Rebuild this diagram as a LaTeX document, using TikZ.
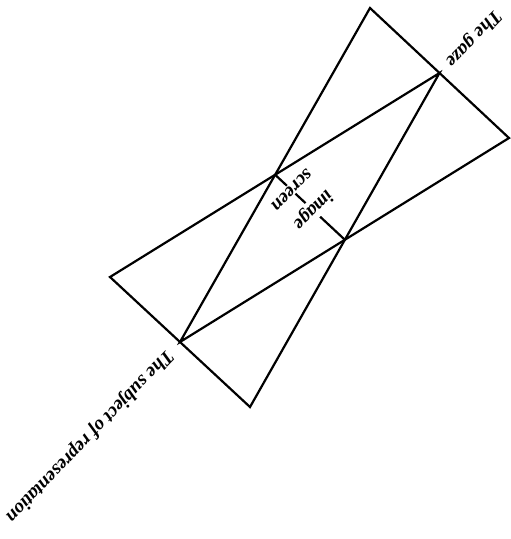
\documentclass[tikz,border=0pt]{standalone}
\usepackage{fontspec}
\setmainfont{Liberation Serif}
\usetikzlibrary{positioning, calc}
\tikzset{
  side/.style={line width=1.25pt, line join=miter},
  axis label/.style={font=\bfseries\itshape\fontsize{11}{13}\selectfont, rotate=226, inner sep=1pt},
  screen label/.style={axis label, fill=white, inner sep=0.6pt},
}

\begin{document}
\begin{tikzpicture}[x=0.02cm, y=-0.02cm]
  \useasboundingbox (0,0) rectangle (511,539);

  % corners and apexes
  \coordinate (top)    at (370,8);
  \coordinate (right)  at (509,138);
  \coordinate (bottom) at (250,407);
  \coordinate (left)   at (110,277);
  \coordinate (gaze)   at ($(top)!0.5!(right)$);
  \coordinate (subj)   at ($(left)!0.5!(bottom)$);

  % the two triangles
  \draw[side] (subj) -- (top) -- (right) -- cycle;
  \draw[side] (gaze) -- (left) -- (bottom) -- cycle;

  % screen between the crossings
  \coordinate (cross1) at (intersection of top--subj and left--gaze);
  \coordinate (cross2) at (intersection of right--subj and bottom--gaze);
  \draw[side] (cross1) -- (cross2);
  \node[screen label] (screen) at ($(cross1)!0.23!(cross2)$) {screen};
  \node[screen label] (image)  at ($(cross1)!0.54!(cross2)$) {image};

  % labels on the axis
  \node[axis label, anchor=east] (gazetext) at ($(gaze)!-6pt!(subj)$) {The gaze};
  \node[axis label, anchor=west] (subjtext) at ($(subj)!-7pt!(gaze)$) {The subject of representation};
\end{tikzpicture}
\end{document}
